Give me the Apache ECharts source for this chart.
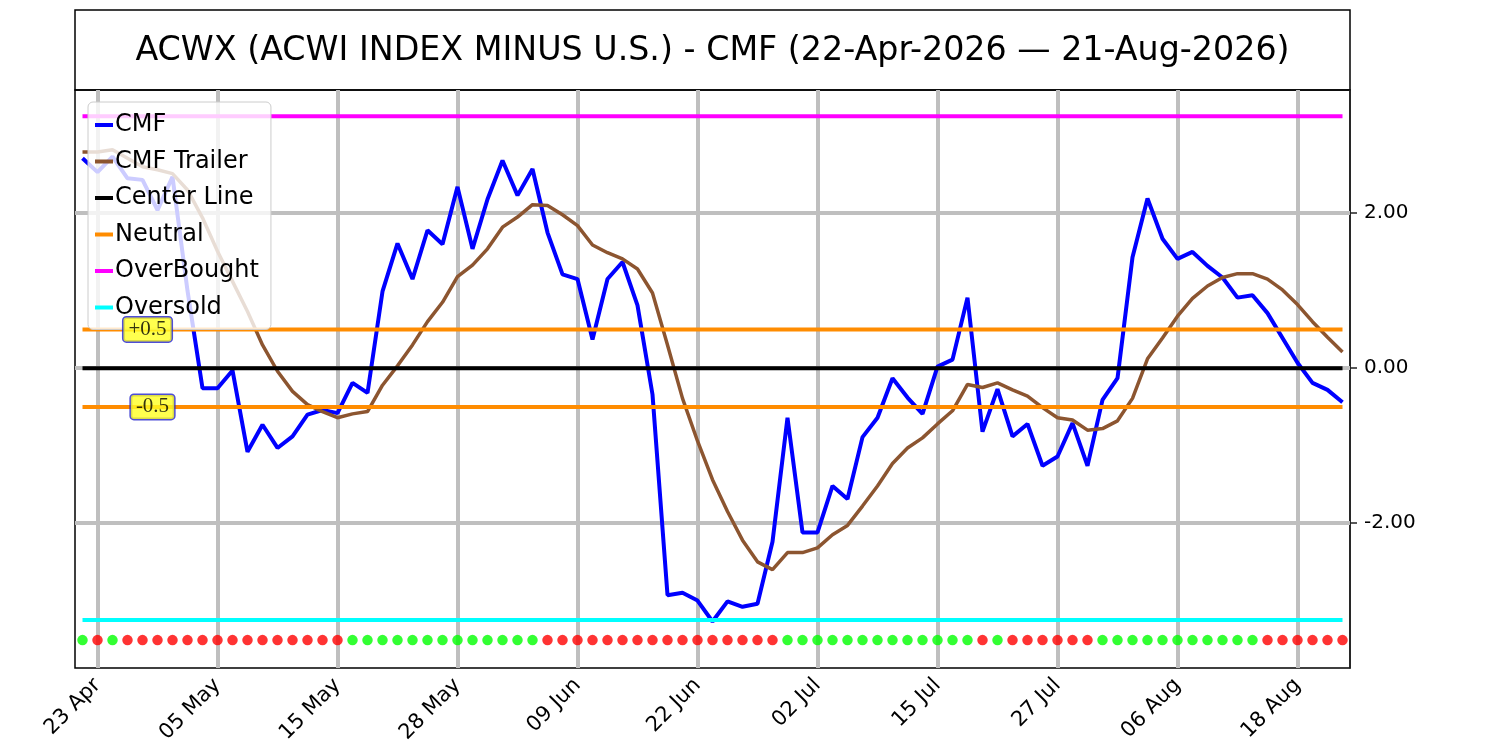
<!DOCTYPE html>
<html>
<head>
<meta charset="utf-8">
<title>ACWX - CMF</title>
<script src="https://cdn.jsdelivr.net/npm/echarts@6/dist/echarts.min.js"></script>
<style>
    html, body {margin: 0; padding: 0; background: #fff;}
    #chart {width: 1500px; height: 750px;}
</style>
</head>
<body>
<div id="chart"></div>
<script>
// trading days, 22-Apr-2026 .. 21-Aug-2026
var dates = [
    '22 Apr', '23 Apr', '24 Apr', '27 Apr', '28 Apr', '29 Apr', '30 Apr',
    '01 May', '04 May', '05 May', '06 May', '07 May', '08 May', '11 May', '12 May', '13 May', '14 May',
    '15 May', '18 May', '19 May', '20 May', '21 May', '22 May', '26 May', '27 May', '28 May', '29 May',
    '01 Jun', '02 Jun', '03 Jun', '04 Jun', '05 Jun', '08 Jun', '09 Jun', '10 Jun', '11 Jun', '12 Jun',
    '15 Jun', '16 Jun', '17 Jun', '18 Jun', '22 Jun', '23 Jun', '24 Jun', '25 Jun', '26 Jun', '29 Jun', '30 Jun',
    '01 Jul', '02 Jul', '06 Jul', '07 Jul', '08 Jul', '09 Jul', '10 Jul', '13 Jul', '14 Jul', '15 Jul',
    '16 Jul', '17 Jul', '20 Jul', '21 Jul', '22 Jul', '23 Jul', '24 Jul', '27 Jul', '28 Jul', '29 Jul',
    '30 Jul', '31 Jul', '03 Aug', '04 Aug', '05 Aug', '06 Aug', '07 Aug', '10 Aug', '11 Aug', '12 Aug',
    '13 Aug', '14 Aug', '17 Aug', '18 Aug', '19 Aug', '20 Aug', '21 Aug'
];

// Chaikin money flow
var cmf = [
    2.71, 2.53, 2.73, 2.45, 2.43, 2.04, 2.47, 1.00, -0.26, -0.26,
    -0.03, -1.08, -0.73, -1.03, -0.88, -0.60, -0.54, -0.58, -0.19, -0.32,
    0.99, 1.61, 1.15, 1.78, 1.60, 2.34, 1.54, 2.18, 2.68, 2.23,
    2.57, 1.75, 1.21, 1.15, 0.37, 1.15, 1.37, 0.81, -0.34, -2.93,
    -2.90, -3.00, -3.27, -3.01, -3.08, -3.04, -2.24, -0.64, -2.12, -2.12,
    -1.52, -1.69, -0.89, -0.64, -0.13, -0.38, -0.59, 0.02, 0.11, 0.91,
    -0.82, -0.27, -0.88, -0.72, -1.26, -1.14, -0.71, -1.26, -0.41, -0.13,
    1.43, 2.19, 1.67, 1.41, 1.50, 1.32, 1.17, 0.91, 0.94, 0.71,
    0.39, 0.07, -0.19, -0.28, -0.44
];

// trailing average of cmf
var cmfTrailer = [
    2.79, 2.79, 2.82, 2.71, 2.60, 2.56, 2.51, 2.30, 1.94, 1.51,
    1.12, 0.73, 0.30, -0.04, -0.30, -0.47, -0.56, -0.64, -0.59, -0.56,
    -0.22, 0.03, 0.30, 0.60, 0.85, 1.18, 1.33, 1.54, 1.82, 1.95,
    2.11, 2.10, 1.98, 1.84, 1.59, 1.49, 1.41, 1.28, 0.97, 0.30,
    -0.39, -0.94, -1.44, -1.85, -2.22, -2.50, -2.60, -2.38, -2.38, -2.32,
    -2.15, -2.03, -1.78, -1.52, -1.23, -1.03, -0.90, -0.72, -0.55, -0.21,
    -0.25, -0.19, -0.28, -0.36, -0.51, -0.64, -0.67, -0.80, -0.78, -0.68,
    -0.39, 0.12, 0.39, 0.67, 0.90, 1.06, 1.17, 1.22, 1.22, 1.15,
    1.01, 0.82, 0.60, 0.40, 0.21
];

// 1 = green dot, -1 = red dot
var signal = [
    1, -1, 1, -1, -1, -1, -1, -1, -1, -1,
    -1, -1, -1, -1, -1, -1, -1, -1, 1, 1,
    1, 1, 1, 1, 1, 1, 1, 1, 1, 1,
    1, -1, -1, -1, -1, -1, -1, -1, -1, -1,
    -1, -1, -1, -1, -1, -1, -1, 1, 1, 1,
    1, 1, 1, 1, 1, 1, 1, 1, 1, 1,
    -1, 1, -1, -1, -1, -1, -1, -1, 1, 1,
    1, 1, 1, 1, 1, 1, 1, 1, 1, -1,
    -1, -1, -1, -1, -1
];

var centerLevel = 0;
var neutralLevels = [0.5, -0.5];
var overBought = 3.25;
var overSold = -3.25;
var signalRow = -3.51;

var yTicks = [-2, 0, 2];
var yMin = -3.87, yMax = 3.59;

var annotationDate = '28 Apr';
var annotationValues = [0.5, -0.5];
var annotationTexts = ['+0.5', '-0.5'];

var titleText = 'ACWX (ACWI INDEX MINUS U.S.) - CMF (22-Apr-2026 \u2014 21-Aug-2026)';

//标签每8个交易日一个
function isLabelDay(i) {
    return i % 8 === 1;
}
var labelDates = dates.filter(function (d, i) { return isLabelDay(i); });

function flat(v) {
    return dates.map(function () { return v; });
}

var font = 'DejaVu Sans';
var gridMarks = [];
labelDates.forEach(function (d) { gridMarks.push({xAxis: d}); });
yTicks.forEach(function (v) { gridMarks.push({yAxis: v}); });

var labelOffsets = [[5, 0], [10, 0]];

function levelLine(name, data, color) {
    return {
        name: name,
        type: 'line',
        data: data,
        symbol: 'none',
        z: 3,
        lineStyle: {color: color, width: 4},
        itemStyle: {color: color}
    };
}

var option = {
    animation: false,
    backgroundColor: '#fff',
    graphic: [
        {
            type: 'rect',
            shape: {x: 75, y: 10, width: 1275, height: 80},
            style: {fill: 'none', stroke: '#000', lineWidth: 1.5}
        },
        {
            type: 'text',
            x: 712.5,
            y: 51,
            style: {
                text: titleText,
                fontFamily: font,
                fontSize: 33.3,
                fill: '#000',
                align: 'center',
                verticalAlign: 'middle'
            }
        }
    ],
    legend: {
        orient: 'vertical',
        left: 88,
        top: 102,
        padding: [11, 12, 10, 7],
        icon: 'rect',
        itemWidth: 18,
        itemHeight: 4,
        itemGap: 12.5,
        backgroundColor: 'rgba(255,255,255,0.8)',
        borderColor: '#cccccc',
        borderWidth: 1,
        borderRadius: 5,
        selectedMode: false,
        data: ['CMF', 'CMF Trailer', 'Center Line', 'Neutral', 'OverBought', 'Oversold'],
        textStyle: {fontFamily: font, fontSize: 24, color: '#000', padding: [0, 0, 0, -3]}
    },
    grid: {
        left: 75,
        right: 150,
        top: 90,
        bottom: 82,
        show: true,
        borderColor: '#000',
        borderWidth: 1.5
    },
    xAxis: {
        type: 'category',
        data: dates,
        boundaryGap: true,
        axisLine: {lineStyle: {color: '#222', width: 1.5}},
        axisTick: {
            alignWithLabel: true,
            interval: function (i) { return isLabelDay(i); },
            length: 7,
            lineStyle: {color: '#222', width: 1.5}
        },
        axisLabel: {
            interval: function (i) { return isLabelDay(i); },
            rotate: 45,
            margin: 14,
            fontFamily: font,
            fontSize: 21,
            color: '#000'
        },
        splitLine: {show: false}
    },
    yAxis: {
        type: 'value',
        position: 'right',
        min: yMin,
        max: yMax,
        axisLine: {show: true, lineStyle: {color: '#222', width: 1.5}},
        axisTick: {show: true, customValues: yTicks, length: 7, lineStyle: {color: '#222', width: 1.5}},
        axisLabel: {
            customValues: yTicks,
            margin: 14,
            fontFamily: font,
            fontSize: 20,
            color: '#000',
            formatter: function (v) { return v.toFixed(2); }
        },
        splitLine: {show: false}
    },
    series: [
        {
            name: 'grid',
            type: 'line',
            data: [],
            z: 1,
            silent: true,
            markLine: {
                z: 1,
                silent: true,
                symbol: ['none', 'none'],
                label: {show: false},
                emphasis: {disabled: true},
                lineStyle: {color: '#bfbfbf', width: 4, type: 'solid'},
                data: gridMarks
            }
        },
        {
            name: 'CMF',
            type: 'line',
            data: cmf,
            symbol: 'none',
            z: 3,
            lineStyle: {color: '#0000ff', width: 4},
            itemStyle: {color: '#0000ff'}
        },
        {
            name: 'CMF Trailer',
            type: 'line',
            data: cmfTrailer,
            symbol: 'none',
            z: 3,
            lineStyle: {color: '#8c5530', width: 3.5},
            itemStyle: {color: '#8c5530'}
        },
        levelLine('Center Line', flat(centerLevel), '#000000'),
        levelLine('Neutral', flat(neutralLevels[0]), '#ff8c00'),
        levelLine('Neutral', flat(neutralLevels[1]), '#ff8c00'),
        levelLine('OverBought', flat(overBought), '#ff00ff'),
        levelLine('Oversold', flat(overSold), '#00ffff'),
        {
            name: 'signal',
            type: 'scatter',
            symbolSize: 10.5,
            z: 3,
            data: signal.map(function (s, i) {
                return {
                    value: [dates[i], signalRow],
                    itemStyle: {color: s > 0 ? '#00ff00' : '#ff0000'}
                };
            })
        },
        {
            name: 'annotations',
            type: 'scatter',
            symbolSize: 0,
            z: 10,
            silent: true,
            data: annotationValues.map(function (v, i) {
                return {
                    value: [annotationDate, v],
                    label: {
                        show: true,
                        position: 'inside',
                        offset: labelOffsets[i],
                        formatter: annotationTexts[i],
                        fontFamily: 'Liberation Serif',
                        fontSize: 21,
                        color: '#000',
                        backgroundColor: '#ffff22',
                        borderColor: '#2222cc',
                        borderWidth: 1.5,
                        borderRadius: 3,
                        padding: [2, 5, 1, 5]
                    }
                };
            })
        }
    ]
};

var myChart = echarts.init(document.getElementById('chart'));
myChart.setOption(option);
</script>
</body>
</html>
